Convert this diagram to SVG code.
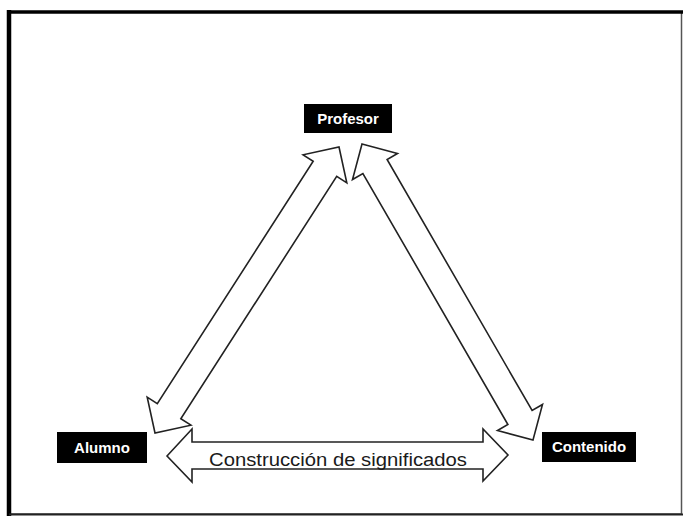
<svg xmlns="http://www.w3.org/2000/svg" width="683" height="519" viewBox="0 0 683 519">
<style>
.box{fill:#000;}
.lbl{fill:#fff;font-family:"Liberation Sans",Arial,sans-serif;font-weight:bold;font-size:15px;text-anchor:middle;}
.arrow{fill:#fff;stroke:#222;stroke-width:1.6;stroke-linejoin:miter;}
.cap{fill:#1a1a1a;font-family:"Liberation Sans",Arial,sans-serif;font-size:18px;text-anchor:middle;}
</style>
<rect x="0" y="0" width="683" height="519" fill="#fff"/>
<g id="frame">
<rect x="9" y="12" width="672.5" height="502" fill="none" stroke="#555" stroke-width="1.5"/>
<line x1="9" y1="12" x2="683" y2="12" stroke="#000" stroke-width="3.5"/>
<line x1="9" y1="10" x2="9" y2="516" stroke="#000" stroke-width="4.5"/>
<line x1="9" y1="514.5" x2="683" y2="514.5" stroke="#222" stroke-width="2"/>
</g>
<g id="connectors">
<polygon class="arrow" points="339,147 346.8,182.9 336.7,176.4 180.8,418.7 190.9,425.2 155,433 147.2,397.1 157.3,403.6 313.2,161.3 303.1,154.8"/>
<polygon class="arrow" points="362,144 397.5,153.5 387.1,159.5 532.1,410.5 542.5,404.5 533,440 497.5,430.5 507.9,424.5 362.9,173.5 352.5,179.5"/>
<polygon class="arrow" points="167,456 192,429 192,442 483,442 483,429 508,455 483,481 483,469 192,469 192,482"/>
<text class="cap" x="338" y="466" textLength="258" lengthAdjust="spacingAndGlyphs">Construcción de significados</text>
</g>
<g id="profesor">
<rect class="box" x="304" y="104" width="88" height="29"/>
<text class="lbl" x="348" y="124">Profesor</text>
</g>
<g id="alumno">
<rect class="box" x="57" y="432" width="90" height="31"/>
<text class="lbl" x="102" y="453">Alumno</text>
</g>
<g id="contenido">
<rect class="box" x="542" y="432" width="94" height="30"/>
<text class="lbl" x="589" y="452">Contenido</text>
</g>
</svg>
